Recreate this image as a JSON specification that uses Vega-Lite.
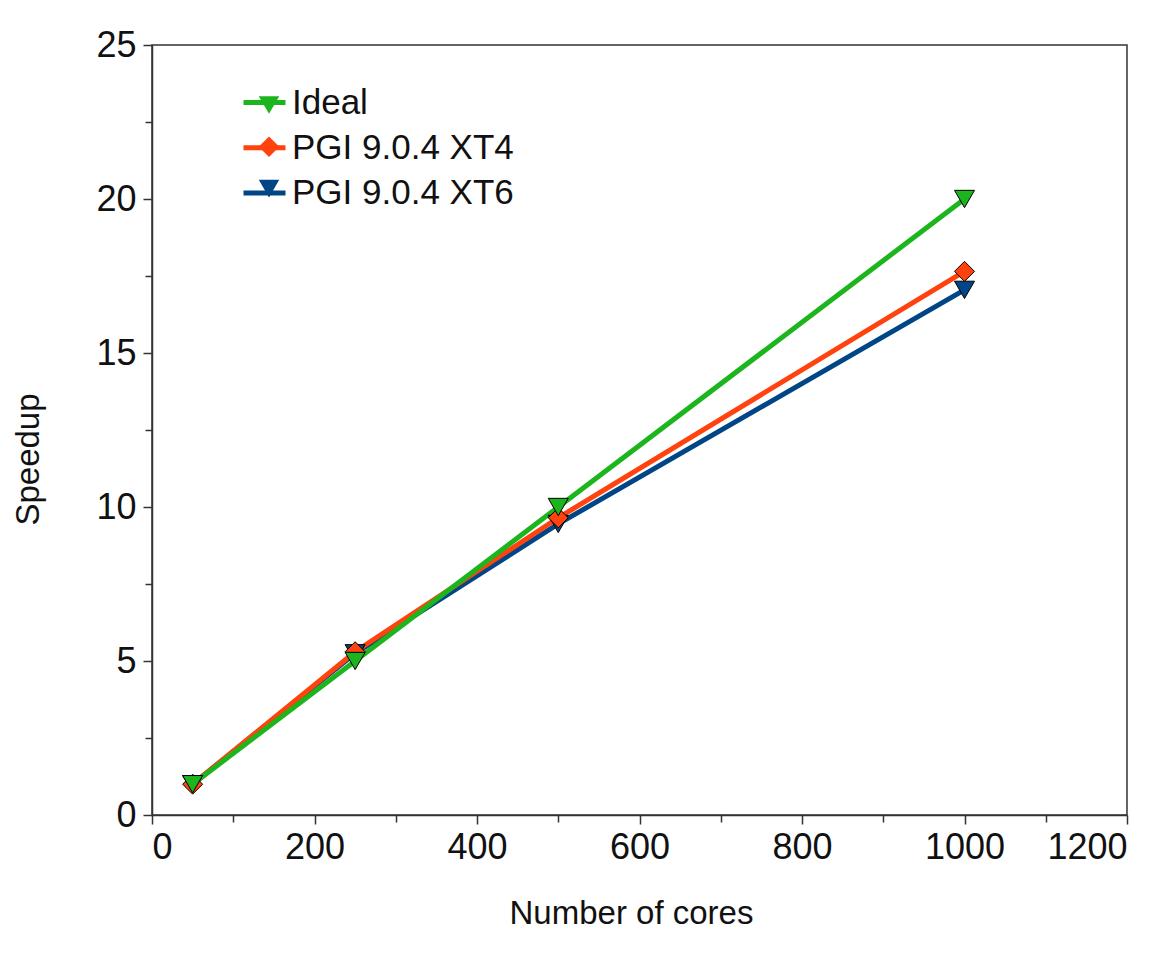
{
  "$schema": "https://vega.github.io/schema/vega-lite/v6.json",
  "width": 975,
  "height": 770,
  "autosize": {"type": "none"},
  "padding": {"left": 152, "top": 45, "right": 47, "bottom": 142},
  "background": "white",
  "config": {
    "view": {"stroke": "#333333", "strokeWidth": 1.5},
    "font": "Liberation Sans",
    "axis": {
      "labelFont": "Liberation Sans",
      "labelFontSize": 36,
      "labelColor": "#111111",
      "titleFont": "Liberation Sans",
      "titleFontSize": 33,
      "titleFontWeight": "normal",
      "titleColor": "#111111",
      "domainColor": "#333333",
      "domainWidth": 1.5,
      "tickColor": "#333333",
      "tickWidth": 1.5,
      "tickSize": 9,
      "grid": false
    },
    "legend": {
      "labelFont": "Liberation Sans",
      "labelFontSize": 34,
      "labelColor": "#111111",
      "labelLimit": 0
    }
  },
  "resolve": {"scale": {"x": "independent", "y": "independent"}},
  "data": {
    "values": [
      {"cores": 50, "speedup": 1, "series": "PGI 9.0.4 XT6"},
      {"cores": 250, "speedup": 5.25, "series": "PGI 9.0.4 XT6"},
      {"cores": 500, "speedup": 9.45, "series": "PGI 9.0.4 XT6"},
      {"cores": 1000, "speedup": 17.05, "series": "PGI 9.0.4 XT6"},
      {"cores": 50, "speedup": 1, "series": "PGI 9.0.4 XT4"},
      {"cores": 250, "speedup": 5.3, "series": "PGI 9.0.4 XT4"},
      {"cores": 500, "speedup": 9.65, "series": "PGI 9.0.4 XT4"},
      {"cores": 1000, "speedup": 17.65, "series": "PGI 9.0.4 XT4"},
      {"cores": 50, "speedup": 1, "series": "Ideal"},
      {"cores": 250, "speedup": 5, "series": "Ideal"},
      {"cores": 500, "speedup": 10, "series": "Ideal"},
      {"cores": 1000, "speedup": 20, "series": "Ideal"}
    ]
  },
  "layer": [
    {
      "mark": {"type": "line", "strokeWidth": 5},
      "encoding": {
        "x": {
          "field": "cores", "type": "quantitative",
          "scale": {"domain": [0, 1200], "nice": false, "zero": false},
          "axis": {"orient": "bottom", "values": [0, 200, 400, 600, 800, 1000, 1200], "format": "d", "title": "Number of cores", "labelPadding": 6, "titlePadding": 32, "titleX": 479}
        },
        "y": {
          "field": "speedup", "type": "quantitative",
          "scale": {"domain": [0, 25], "nice": false},
          "axis": {"orient": "left", "values": [0, 5, 10, 15, 20, 25], "format": "d", "title": "Speedup", "labelPadding": 7, "titlePadding": 50, "titleY": 414}
        },
        "color": {
          "field": "series", "type": "nominal",
          "scale": {"domain": ["Ideal", "PGI 9.0.4 XT4", "PGI 9.0.4 XT6"], "range": ["#1db51d", "#ff420e", "#004586"]},
          "legend": {
            "title": null, "orient": "none", "legendX": 89, "legendY": 34,
            "symbolType": "stroke", "symbolSize": 1764, "symbolStrokeWidth": 5,
            "labelFontSize": 35, "labelOffset": 4, "rowPadding": 3.3, "padding": 0
          }
        },
        "order": {"field": "cores", "type": "quantitative"}
      }
    },
    {
      "mark": {"type": "point", "filled": true, "size": 400, "stroke": "black", "strokeWidth": 1, "opacity": 1},
      "encoding": {
        "x": {
          "field": "cores", "type": "quantitative",
          "scale": {"domain": [0, 1200], "nice": false, "zero": false},
          "axis": {"orient": "bottom", "values": [100, 300, 500, 700, 900, 1100], "labels": false, "domain": false, "title": null, "tickSize": 7}
        },
        "y": {
          "field": "speedup", "type": "quantitative",
          "scale": {"domain": [0, 25], "nice": false},
          "axis": {"orient": "left", "values": [2.5, 7.5, 12.5, 17.5, 22.5], "labels": false, "domain": false, "title": null, "tickSize": 7}
        },
        "fill": {
          "field": "series", "type": "nominal",
          "scale": {"range": ["#1db51d", "#ff420e", "#004586"]},
          "legend": {
            "title": null, "orient": "none", "legendX": 100, "legendY": 43,
            "symbolSize": 420, "symbolStrokeColor": "black", "symbolStrokeWidth": 1,
            "labelExpr": "''", "labelFontSize": 34, "labelOffset": 0, "rowPadding": 7.8, "padding": 0
          }
        },
        "shape": {
          "field": "series", "type": "nominal",
          "scale": {"range": ["triangle-down", "diamond", "triangle-down"]},
          "legend": {
            "title": null, "orient": "none", "legendX": 100, "legendY": 43,
            "symbolSize": 420, "symbolStrokeColor": "black", "symbolStrokeWidth": 1,
            "labelExpr": "''", "labelFontSize": 34, "labelOffset": 0, "rowPadding": 7.8, "padding": 0
          }
        }
      }
    }
  ]
}
